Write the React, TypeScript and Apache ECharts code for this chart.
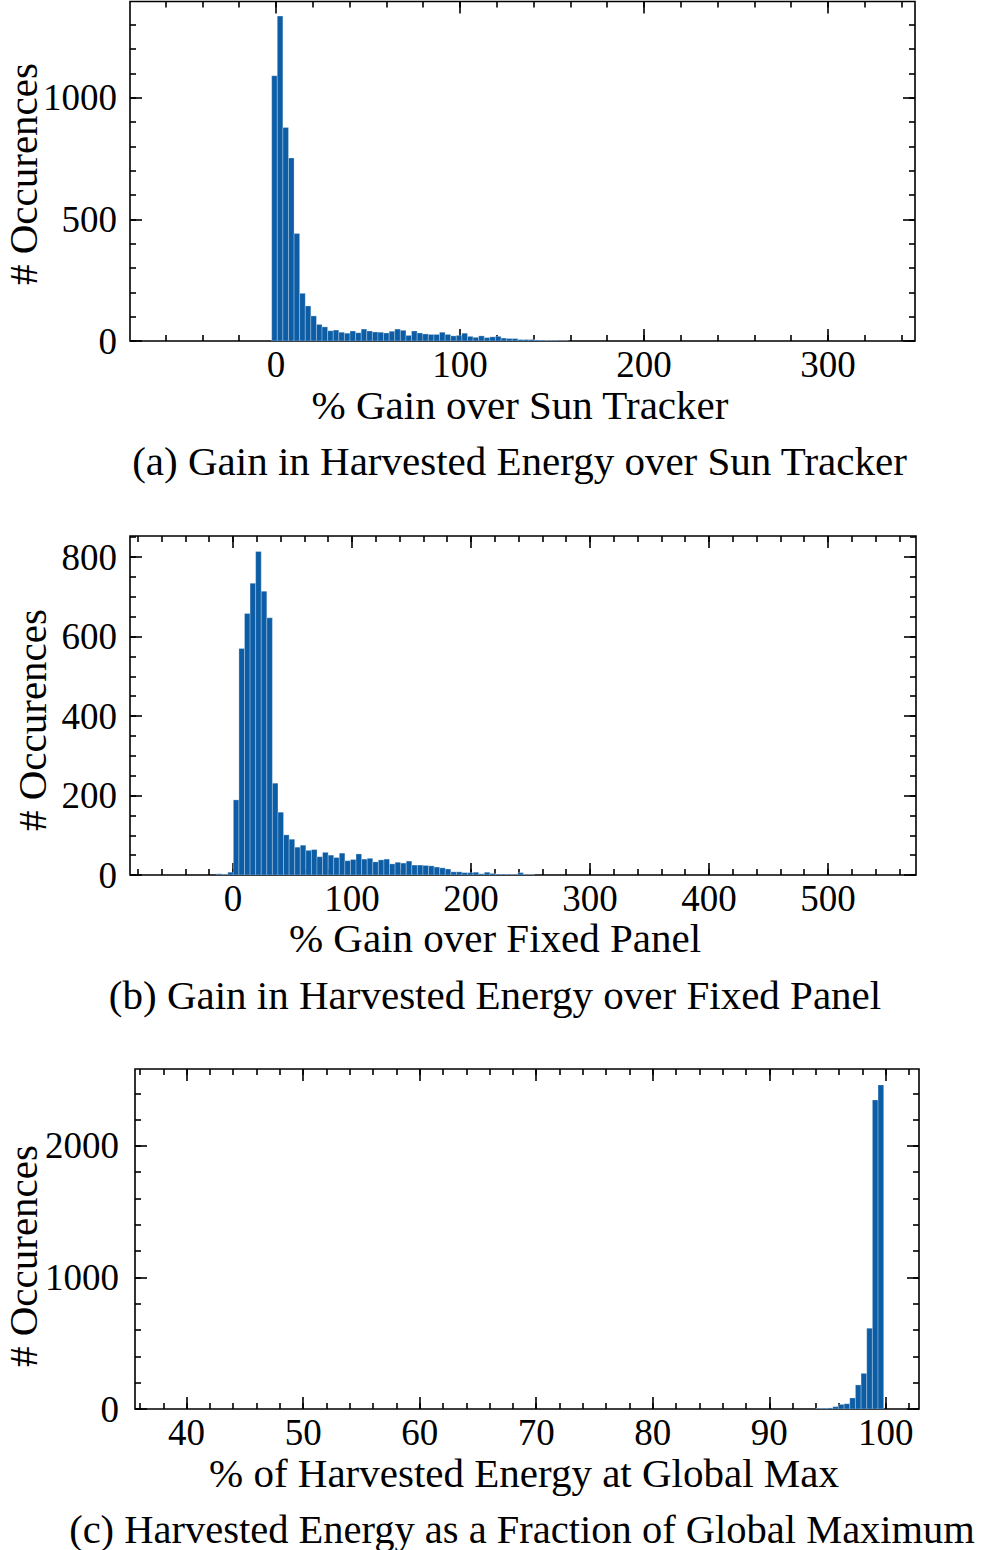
import * as echarts from "echarts";
import { useEffect, useRef } from "react";

const barColor = "#0c5da5";
const barEdge = "rgba(255, 255, 255, 0.35)";
const FONT = '"Liberation Serif", "Times New Roman", serif';
const tickLine = { color: "#000", width: 1.6 };

// (a) gain over sun tracker
const binStartA = -2.3;
const binWidthA = 3.04;
const countsA = [
  1090, 1335, 877, 752, 442, 196, 144, 103, 68, 58, 42, 45, 36, 32, 41, 34, 49, 41, 37, 36, 33, 40, 49, 44, 23, 41, 33,
  29, 27, 27, 36, 27, 21, 23, 32, 19, 15, 21, 14, 17, 19, 12, 10, 10, 6, 6, 6, 4, 3, 2, 2, 1, 1,
];
const xTicksA = [0, 100, 200, 300];
const yTicksA = [0, 500, 1000];

// (b) gain over fixed panel
const binStartB = -13.8;
const binWidthB = 4.687;
const countsB = [
  3, 1, 7, 189, 570, 658, 734, 814, 714, 647, 231, 158, 101, 90, 70, 75, 62, 64, 46, 57, 50, 44, 55, 36, 39, 53, 40, 42,
  33, 38, 40, 28, 32, 30, 35, 25, 25, 24, 23, 20, 18, 15, 8, 8, 6, 6, 7, 3, 7, 4, 2, 2, 1, 1, 6, 1, 1,
];
const xTicksB = [0, 100, 200, 300, 400, 500];
const yTicksB = [0, 200, 400, 600, 800];

// (c) fraction of global maximum
const binStartC = 94.0;
const binWidthC = 0.485;
const countsC = [5, 5, 8, 18, 35, 40, 84, 183, 271, 614, 2350, 2464];
const xTicksC = [40, 50, 60, 70, 80, 90, 100];
const yTicksC = [0, 1000, 2000];

function histData(start: number, width: number, counts: number[]) {
  return counts.map((c, i) => [start + i * width, start + (i + 1) * width, c]);
}

function stepValues(min: number, max: number, step: number) {
  const out: number[] = [];
  for (let v = Math.ceil(min / step) * step; v <= max; v += step) out.push(Math.round(v * 1000) / 1000);
  return out;
}

const tickLabel = (margin: number, majors: number[]) => ({
  customValues: majors,
  margin,
  color: "#000",
  fontSize: 37,
  fontFamily: FONT,
  formatter: (v: number) => String(v),
});

function xAxes(grid: number, min: number, max: number, majors: number[], minorStep: number, margin: number) {
  const minors = stepValues(min, max, minorStep);
  const base = { gridIndex: grid, type: "value", min, max, axisLine: { show: false, onZero: false }, splitLine: { show: false } };
  const major = { inside: true, length: 12, lineStyle: tickLine, customValues: majors };
  const minor = { inside: true, length: 6, lineStyle: tickLine, customValues: minors };
  return [
    { ...base, position: "bottom", axisTick: major, axisLabel: tickLabel(margin, majors) },
    { ...base, position: "bottom", axisTick: minor, axisLabel: { show: false } },
    { ...base, position: "top", axisTick: major, axisLabel: { show: false } },
    { ...base, position: "top", axisTick: minor, axisLabel: { show: false } },
  ];
}

function yAxes(grid: number, max: number, majors: number[], minorStep: number, margin: number) {
  const minors = stepValues(0, max, minorStep);
  const base = { gridIndex: grid, type: "value", min: 0, max, axisLine: { show: false, onZero: false }, splitLine: { show: false } };
  const major = { inside: true, length: 12, lineStyle: tickLine, customValues: majors };
  const minor = { inside: true, length: 6, lineStyle: tickLine, customValues: minors };
  return [
    { ...base, position: "left", axisTick: major, axisLabel: tickLabel(margin, majors) },
    { ...base, position: "left", axisTick: minor, axisLabel: { show: false } },
    { ...base, position: "right", axisTick: major, axisLabel: { show: false } },
    { ...base, position: "right", axisTick: minor, axisLabel: { show: false } },
  ];
}

const renderBar = (_params: any, api: any) => {
  const top = api.coord([api.value(0), api.value(2)]);
  const bottom = api.coord([api.value(1), 0]);
  return {
    type: "rect",
    shape: { x: top[0], y: top[1], width: bottom[0] - top[0], height: bottom[1] - top[1] },
    style: { fill: barColor, stroke: barEdge, lineWidth: 0.8 },
  };
};

function histSeries(grid: number, data: number[][]) {
  return {
    type: "custom",
    xAxisIndex: grid * 4,
    yAxisIndex: grid * 4,
    renderItem: renderBar,
    encode: { x: [0, 1], y: 2 },
    clip: true,
    silent: true,
    data,
  };
}

function label(text: string, x: number, y: number, rotation = 0, size = 41) {
  return {
    type: "text",
    x,
    y,
    rotation,
    silent: true,
    style: {
      text,
      fill: "#000",
      fontSize: size,
      fontFamily: FONT,
      align: "center",
      verticalAlign: "middle",
      textAlign: "center",
      textVerticalAlign: "middle",
    },
  };
}

export default function App() {
  const ref = useRef<HTMLDivElement | null>(null);

  useEffect(() => {
    if (!ref.current) return;
    const chart = echarts.init(ref.current, undefined, { renderer: "svg" });
    const gridBox = { show: true, borderColor: "#000", borderWidth: 1.6, backgroundColor: "transparent", containLabel: false, outerBoundsMode: "none" };
    chart.setOption({
      animation: false,
      grid: [
        { ...gridBox, left: 130, top: 1.5, width: 785, height: 339.5 },
        { ...gridBox, left: 130, top: 536, width: 786, height: 339 },
        { ...gridBox, left: 135, top: 1069, width: 784, height: 340 },
      ],
      xAxis: [
        ...xAxes(0, -79.3, 347.3, xTicksA, 20, 5),
        ...xAxes(1, -86.6, 574, xTicksB, 20, 5),
        ...xAxes(2, 35.57, 102.85, xTicksC, 2, 5),
      ],
      yAxis: [...yAxes(0, 1395, yTicksA, 100, 13), ...yAxes(1, 853, yTicksB, 50, 13), ...yAxes(2, 2585, yTicksC, 200, 16)],
      series: [
        histSeries(0, histData(binStartA, binWidthA, countsA)),
        histSeries(1, histData(binStartB, binWidthB, countsB)),
        histSeries(2, histData(binStartC, binWidthC, countsC)),
      ],
      graphic: [
        label("# Occurences", 23, 174, Math.PI / 2),
        label("% Gain over Sun Tracker", 520, 405),
        label("(a) Gain in Harvested Energy over Sun Tracker", 519.5, 461),
        label("# Occurences", 32, 720, Math.PI / 2),
        label("% Gain over Fixed Panel", 495, 938),
        label("(b) Gain in Harvested Energy over Fixed Panel", 495, 995),
        label("# Occurences", 23, 1256, Math.PI / 2),
        label("% of Harvested Energy at Global Max", 524, 1473),
        label("(c) Harvested Energy as a Fraction of Global Maximum", 522, 1529, 0, 40.5),
      ],
    });
    return () => chart.dispose();
  }, []);

  return <div ref={ref} style={{ position: "absolute", left: 0, top: 0, width: 983, height: 1550, background: "#fff" }} />;
}
